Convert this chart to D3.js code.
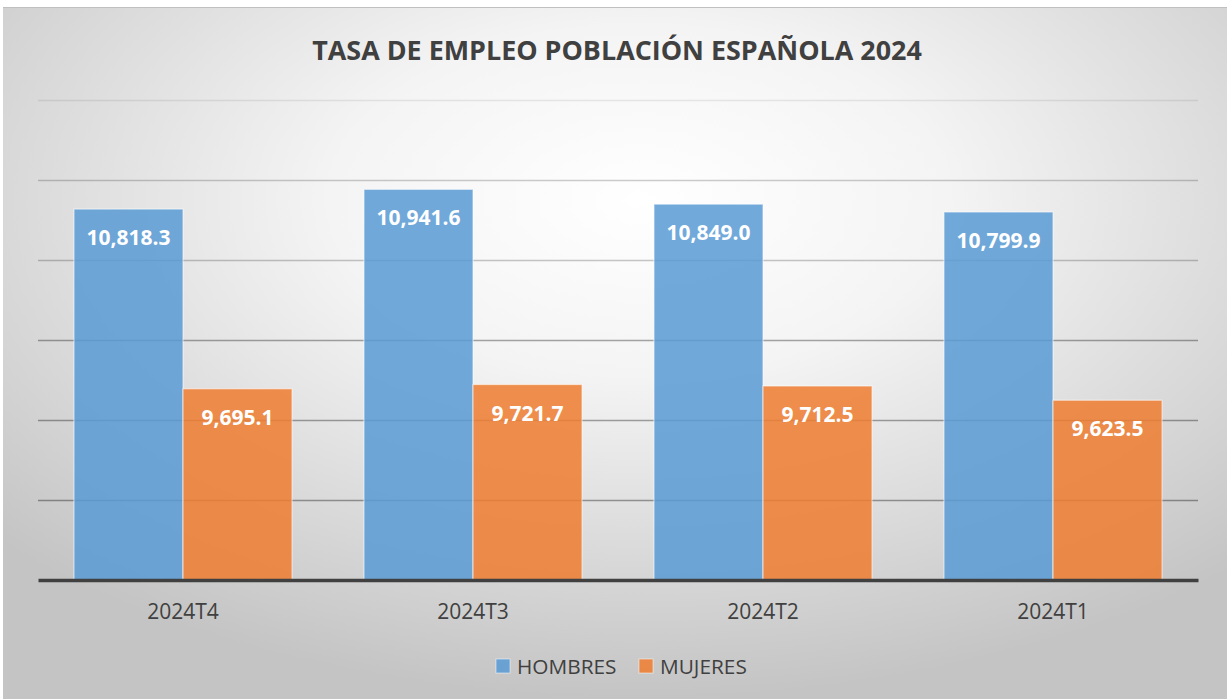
<!DOCTYPE html>
<html><head><meta charset="utf-8">
<script src="https://cdn.jsdelivr.net/npm/d3@7"></script>
<style>html,body{margin:0;padding:0;background:#fff;}svg{display:block;}</style>
</head><body>
<svg id="c" width="1227" height="699"></svg>
<script>
const title = "TASA DE EMPLEO POBLACIÓN ESPAÑOLA 2024";
const categories = ["2024T4", "2024T3", "2024T2", "2024T1"];
const seriesNames = ["HOMBRES", "MUJERES"];
const hombres = [10818.3, 10941.6, 10849.0, 10799.9];
const mujeres = [9695.1, 9721.7, 9712.5, 9623.5];
const yTicks = [8500, 9000, 9500, 10000, 10500, 11000, 11500];
const colors = ["#5B9BD5", "#ED7D31"];

const svg = d3.select("#c");
const W = 1227, H = 699;
const defs = svg.append("defs");
const rg = defs.append("radialGradient").attr("id", "bg")
  .attr("cx", 0.52).attr("cy", 0.28).attr("r", 0.72);
rg.append("stop").attr("offset", "0").attr("stop-color", "#ffffff");
rg.append("stop").attr("offset", "0.35").attr("stop-color", "#f4f4f4");
rg.append("stop").attr("offset", "1").attr("stop-color", "#c4c4c4");
svg.append("rect").attr("x", 3).attr("y", 7).attr("width", W - 3).attr("height", H - 7)
  .attr("fill", "url(#bg)");
svg.append("line").attr("x1", 3).attr("x2", W).attr("y1", 7.5).attr("y2", 7.5)
  .attr("stroke", "#c0c0c0").attr("stroke-width", 1);

const pL = 38, pR = 1198, pT = 100, pB = 580;
const y = d3.scaleLinear().domain([yTicks[0], yTicks[yTicks.length - 1]]).range([pB, pT]);
const x0 = d3.scaleBand().domain(categories).range([pL, pR]).padding(0);
const x1 = d3.scaleBand().domain(seriesNames).range([0, x0.bandwidth()]).paddingInner(0).paddingOuter(0.33);
const color = d3.scaleOrdinal().domain(seriesNames).range(colors);

// gridlines (shade varies with the background behind them)
const gridOpacity = d3.scaleLinear().domain([9000, 10000, 10500, 11000, 11500]).range([0.36, 0.34, 0.22, 0.2, 0.08]);
const grid = svg.append("g").attr("class", "grid")
  .call(d3.axisLeft(y).tickValues(yTicks.slice(1)).tickSize(-(pR - pL)).tickFormat(""))
  .attr("transform", `translate(${pL},0)`);
grid.select(".domain").remove();
grid.selectAll(".tick line").attr("stroke", "#000")
  .attr("stroke-opacity", d => gridOpacity(d)).attr("stroke-width", 1.5);

const data = categories.map((c, i) => ({cat: c, vals: [
  {s: seriesNames[0], v: hombres[i]}, {s: seriesNames[1], v: mujeres[i]}]}));

const groups = svg.append("g").selectAll("g").data(data).join("g")
  .attr("transform", d => `translate(${x0(d.cat)},0)`);
groups.selectAll("rect").data(d => d.vals).join("rect")
  .attr("x", d => x1(d.s)).attr("width", x1.bandwidth())
  .attr("y", d => y(d.v)).attr("height", d => y(yTicks[0]) - y(d.v))
  .attr("fill", d => color(d.s)).attr("fill-opacity", 0.86)
  .attr("stroke", "#ffffff").attr("stroke-opacity", 0.55).attr("stroke-width", 1.2);
const fmt = d3.format(",.1f");
groups.selectAll("text").data(d => d.vals).join("text")
  .attr("x", d => x1(d.s) + x1.bandwidth() / 2)
  .attr("y", d => y(d.v) + 36)
  .attr("text-anchor", "middle")
  .attr("font-family", "'Open Sans', sans-serif").attr("font-weight", "bold")
  .attr("font-size", 21).attr("fill", "#ffffff")
  .text(d => fmt(d.v));

// x axis
const xa = svg.append("g").attr("transform", `translate(0,${pB})`)
  .call(d3.axisBottom(x0).tickSize(0).tickPadding(24));
xa.select(".domain").attr("stroke", "#404040").attr("stroke-width", 3.5);
xa.selectAll("text").attr("font-family", "'Open Sans', sans-serif").attr("font-size", 21)
  .attr("fill", "#404040");

// title
const t = svg.append("text").attr("x", 617).attr("y", 60).attr("text-anchor", "middle")
  .attr("font-family", "'Open Sans', sans-serif").attr("font-weight", "bold")
  .attr("font-size", 26).attr("fill", "#404040").text(title);
const tw = t.node().getComputedTextLength();
t.attr("font-size", 26 * 610 / tw);

// legend
const legend = svg.append("g");
const lx = [496, 639];
seriesNames.forEach((s, i) => {
  legend.append("rect").attr("x", lx[i]).attr("y", 659).attr("width", 14).attr("height", 14)
    .attr("fill", color(s)).attr("fill-opacity", 0.86)
    .attr("stroke", "#fff").attr("stroke-opacity", 0.5);
  legend.append("text").attr("x", lx[i] + 21).attr("y", 673.5)
    .attr("font-family", "'Open Sans', sans-serif").attr("font-size", 20.8)
    .attr("fill", "#404040").text(s);
});
</script>
</body></html>
